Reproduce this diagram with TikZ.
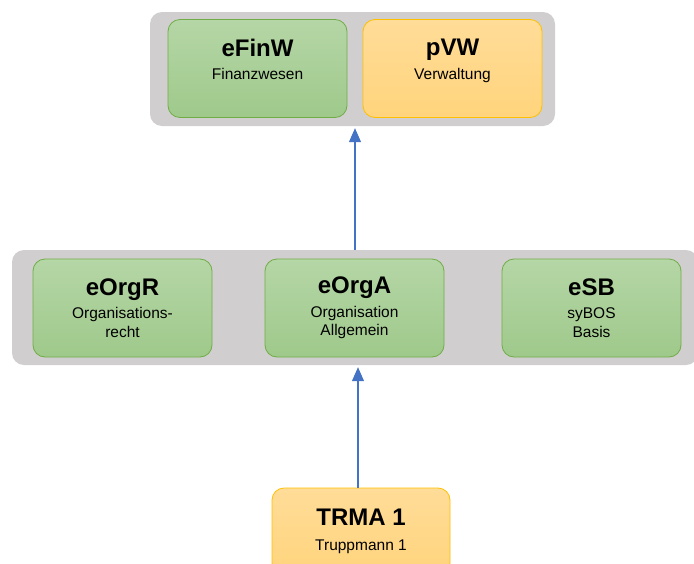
\documentclass[tikz,border=0pt]{standalone}
\usepackage{fontspec}
\setmainfont{Liberation Sans}
\usetikzlibrary{arrows.meta}
\definecolor{panelgray}{HTML}{D0CECE}
\definecolor{greentop}{HTML}{B5D6A6}
\definecolor{greenbot}{HTML}{9FC98B}
\definecolor{greenline}{HTML}{70AD47}
\definecolor{orangetop}{HTML}{FFDC98}
\definecolor{orangebot}{HTML}{FFD47C}
\definecolor{orangeline}{HTML}{FFC000}
\definecolor{arrowblue}{HTML}{4472C4}
\newcommand{\titlefont}{\fontsize{24}{26}\selectfont\bfseries}
\newcommand{\subfont}{\fontsize{15.5}{18.5}\selectfont}
\begin{document}
\begin{tikzpicture}[
		x=1pt, y=-1pt,
		panel/.style={fill=panelgray, rounded corners=12pt, inner sep=0pt},
		box/.style={rounded corners=12pt, align=center, inner sep=0pt, line width=0.8pt,
				font=\subfont, minimum width=179pt, minimum height=98pt},
		green box/.style={box, draw=greenline, top color=greentop, bottom color=greenbot},
		orange box/.style={box, draw=orangeline, top color=orangetop, bottom color=orangebot},
		arr/.style={draw=arrowblue, line width=1.2pt, -{Triangle[width=12pt,length=14pt]}}
	]
	\useasboundingbox (0,0) rectangle (694,563);
	\clip (0,0) rectangle (694,563);
	% top level
	\node[panel, minimum width=405pt, minimum height=114pt] (top) at (352.5,69) {};
	\node[green box] (efinw) at (257.5,68.5) {\titlefont eFinW\\[5pt]Finanzwesen\\\mbox{}};
	\node[orange box] (pvw) at (452.5,68.5) {\titlefont pVW\\[5pt]Verwaltung\\\mbox{}};
	% middle level
	\node[panel, minimum width=686pt, minimum height=115pt] (mid) at (355,307.5) {};
	\node[green box] (eorgr) at (122.5,308) {\titlefont eOrgR\\[5pt]Organisations-\\recht};
	\node[green box] (eorga) at (354.5,308) {\titlefont eOrgA\\[5pt]Organisation\\Allgemein};
	\node[green box] (esb) at (591.5,308) {\titlefont eSB\\[5pt]syBOS\\Basis};
	% bottom
	\node[orange box, minimum width=178pt, minimum height=87pt] (trma) at (361,531.5) {\titlefont TRMA 1\\[6pt]Truppmann 1};
	% arrows
	\draw[arr, shorten >=2pt] (mid.north) -- (mid.north |- top.south);
	\draw[arr, shorten >=2pt] ([xshift=-3pt]trma.north) -- ([xshift=-3pt]trma.north |- mid.south);
\end{tikzpicture}
\end{document}
